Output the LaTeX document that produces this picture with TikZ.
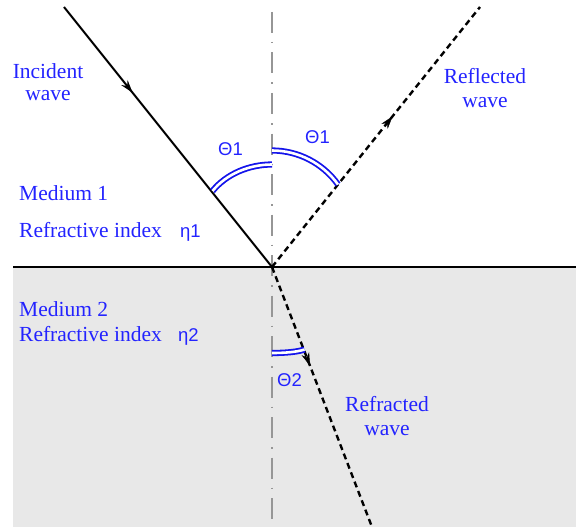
\documentclass[tikz,border=0pt]{standalone}
\usepackage{fontspec}
\setmainfont{Liberation Serif}
\newfontfamily\symfont{Liberation Sans}
\usetikzlibrary{arrows.meta,decorations.markings}
\definecolor{medgray}{RGB}{232,232,232}
\definecolor{normalgray}{RGB}{150,150,150}
\definecolor{txtblue}{RGB}{35,35,255}
\definecolor{arcblue}{RGB}{20,20,235}
\tikzset{
  lbl/.style={inner sep=0pt, text=txtblue, font=\fontsize{21.5}{25}\selectfont},
  sym/.style={inner sep=0pt, text=txtblue, font=\symfont\fontsize{18.5}{21}\selectfont},
  ray/.style={line width=2pt, black},
  dray/.style={line width=2.4pt, black, dash pattern=on 6pt off 4pt},
  anglearc/.style={draw=arcblue, line width=1.8pt, double=white, double distance=2.6pt},
  tipmark/.style={postaction={decorate}, decoration={markings, mark=at position #1 with {\arrow{Stealth[length=13pt,width=8pt]}}}}
}
\begin{document}
\begin{tikzpicture}[x=1pt,y=-1pt]
\useasboundingbox (0,0) rectangle (576,527);
% medium 2 background
\fill[medgray] (13,267) rectangle (576,527);
% coordinates
\coordinate (O) at (272,267);
\coordinate (inc) at (64,7);
\coordinate (refl) at (480,7);
\coordinate (refr) at (372,527);
\coordinate (ntop) at (272,12);
\coordinate (nbot) at (272,527);
\coordinate (ileft) at (13,267);
\coordinate (iright) at (576,267);
% normal
\draw[normalgray, line width=2.4pt, dash pattern=on 21pt off 9pt on 1.5pt off 9pt] (ntop) -- (nbot);
% interface
\draw[line width=2pt] (ileft) -- (iright);
% rays
\draw[ray, tipmark=0.33] (inc) -- (O);
\draw[dray] (O) -- (refl);
\path[tipmark=0.58] (O) -- (refl);
\draw[dray] (O) -- (refr);
\path[tipmark=0.38] (O) -- (refr);
% angle arcs
\draw[anglearc] (212.5,191) .. controls (226.7,173.6) and (249.5,164.5) .. (272,164.5);
\draw[anglearc] (272,150.5) .. controls (298.2,150.5) and (322.8,163.2) .. (338,184.5);
\draw[anglearc] (272,353) .. controls (285,353) and (297,352) .. (304.5,349.5);
% labels
\node[lbl, anchor=base] (t1) at (48,78) {Incident};
\node[lbl, anchor=base] (t2) at (48,100) {wave};
\node[lbl, anchor=base] (t3) at (485,84) {Reflected};
\node[lbl, anchor=base] (t4) at (485,107) {wave};
\node[lbl, anchor=base] (t5) at (387,411) {Refracted};
\node[lbl, anchor=base] (t6) at (387,435) {wave};
\node[lbl, anchor=base west] (m1) at (19,200) {Medium 1};
\node[lbl, anchor=base west] (r1) at (19,237) {Refractive index};
\node[lbl, anchor=base west] (m2) at (19,316) {Medium 2};
\node[lbl, anchor=base west] (r2) at (19,341) {Refractive index};
\node[sym, anchor=base west] (e1) at (180,237) {η1};
\node[sym, anchor=base west] (e2) at (178,341) {η2};
\node[sym, anchor=base west] (a1) at (218,155) {Θ1};
\node[sym, anchor=base west] (a2) at (305,143) {Θ1};
\node[sym, anchor=base west] (a3) at (277,386) {Θ2};
\end{tikzpicture}
\end{document}
